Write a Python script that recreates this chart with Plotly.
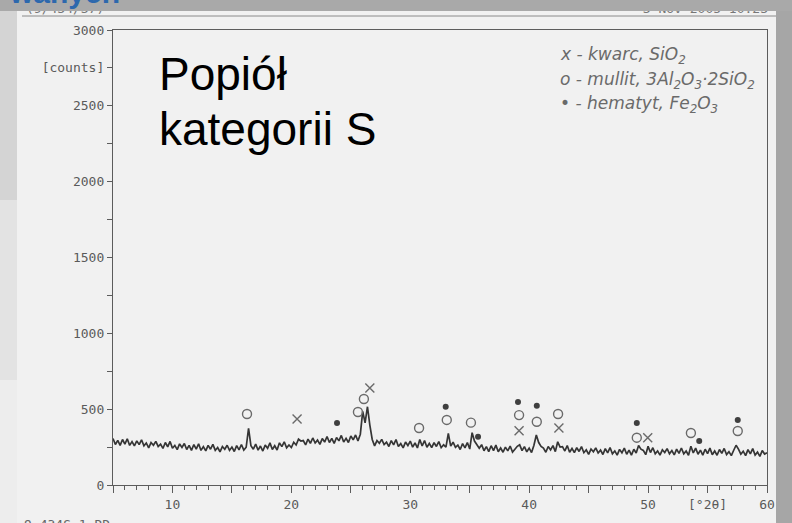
import plotly.graph_objects as go

# Diffraction pattern: 2-theta from 5 to 60 deg, step 0.2 deg
two_theta_start = 5.0
two_theta_step = 0.2
counts = [
    307, 267, 294, 261, 300,   # 5
    269, 305, 261, 286, 258,   # 6
    291, 266, 298, 258, 277,   # 7
    245, 280, 262, 288, 254,   # 8
    270, 241, 280, 252, 287,   # 9
    242, 261, 233, 271, 248,   # 10
    274, 234, 261, 228, 267,   # 11
    236, 272, 228, 253, 225,   # 12
    261, 236, 268, 228, 247,   # 13
    219, 254, 236, 262, 228,   # 14
    250, 221, 260, 232, 267,   # 15
    230, 249, 374, 259, 236,   # 16
    270, 230, 257, 224, 263,   # 17
    242, 278, 234, 259, 231,   # 18
    278, 253, 285, 245, 264,   # 19
    247, 282, 264, 302, 290,   # 20
    293, 264, 303, 275, 310,   # 21
    277, 296, 268, 306, 283,   # 22
    320, 280, 307, 274, 313,   # 23
    291, 327, 283, 308, 280,   # 24
    323, 298, 330, 290, 335,   # 25
    485, 410, 516, 395, 300,   # 26
    258, 293, 275, 301, 267,   # 27
    283, 254, 293, 265, 300,   # 28
    254, 273, 245, 283, 260,   # 29
    290, 250, 277, 244, 300,   # 30
    257, 293, 249, 274, 246,   # 31
    279, 254, 286, 246, 265,   # 32
    250, 341, 256, 282, 248,   # 33
    263, 234, 273, 245, 280,   # 34
    237, 345, 290, 266, 243,   # 35
    266, 226, 253, 220, 259,   # 36
    227, 263, 219, 244, 216,   # 37
    250, 225, 257, 217, 236,   # 38
    255, 265, 227, 253, 219,   # 39
    243, 214, 262, 330, 280,   # 40
    255, 244, 216, 254, 231,   # 41
    260, 220, 285, 250, 253,   # 42
    224, 260, 216, 241, 213,   # 43
    246, 221, 253, 213, 232,   # 44
    202, 237, 219, 245, 211,   # 45
    230, 201, 240, 212, 247,   # 46
    206, 225, 197, 235, 212,   # 47
    243, 203, 230, 197, 236,   # 48
    211, 260, 236, 228, 200,   # 49
    255, 214, 246, 206, 225,   # 50
    197, 232, 214, 240, 206,   # 51
    227, 198, 237, 209, 244,   # 52
    205, 224, 196, 255, 211,   # 53
    243, 203, 230, 197, 236,   # 54
    207, 243, 199, 224, 196,   # 55
    234, 209, 241, 201, 220,   # 56
    194, 229, 262, 237, 203,   # 57
    223, 194, 233, 205, 240,   # 58
    198, 217, 189, 227, 204,   # 59
    212,                       # 60
]
two_theta = [round(two_theta_start + i * two_theta_step, 2) for i in range(len(counts))]

# Phase identification marks (2-theta, label height in counts)
quartz_x = [20.48, 26.6, 39.15, 42.5, 49.97]
quartz_y = [435, 640, 358, 376, 312]
mullite_x = [16.27, 25.6, 26.1, 30.74, 33.07, 35.1, 39.15, 40.64, 42.43, 49.05, 53.6, 57.54]
mullite_y = [468, 481, 567, 376, 429, 411, 461, 417, 468, 312, 343, 356]
hematite_x = [23.84, 32.98, 35.7, 39.06, 40.64, 49.05, 54.3, 57.54]
hematite_y = [409, 516, 318, 547, 523, 409, 290, 429]

x_tick_vals = [5, 10, 15, 20, 25, 30, 35, 40, 45, 50, 55, 60]
x_tick_text = ["", "10", "", "20", "", "30", "", "40", "", "50", "[\u00b02\u03b8]", "60"]
y_tick_vals = [0, 250, 500, 750, 1000, 1250, 1500, 1750, 2000, 2250, 2500, 2750, 3000]
y_tick_text = ["0", "", "500", "", "1000", "", "1500", "", "2000", "", "2500", "[counts]", "3000"]

# plot-area placement in page pixels
W, H = 792, 523
L, R, T, B = 113, 767, 30, 485


def fx(px):
    return (px - L) / (R - L)


def fy(py):
    return (B - py) / (B - T)


INK = "#353535"
AXIS = "#5c5c5c"
PEN = "#6a6a6a"
MONO = "DejaVu Sans Mono"

fig = go.Figure()

fig.add_trace(go.Scatter(
    x=two_theta, y=counts, mode="lines",
    line=dict(color=INK, width=1.7), hoverinfo="skip", showlegend=False,
))
fig.add_trace(go.Scatter(
    x=mullite_x, y=mullite_y, mode="markers",
    marker=dict(symbol="circle-open", size=9, color=PEN, line=dict(width=1.4)),
    showlegend=False,
))
fig.add_trace(go.Scatter(
    x=quartz_x, y=quartz_y, mode="markers",
    marker=dict(symbol="x-thin-open", size=9, color=PEN, line=dict(width=1.4, color=PEN)),
    showlegend=False,
))
fig.add_trace(go.Scatter(
    x=hematite_x, y=hematite_y, mode="markers",
    marker=dict(symbol="circle", size=6, color="#3f3f3f"),
    showlegend=False,
))

shapes = []
# page background bands
shapes.append(dict(type="rect", xref="paper", yref="paper", layer="below",
                   x0=fx(0), x1=fx(17), y0=fy(11), y1=fy(200),
                   fillcolor="#d4d4d4", line=dict(width=0)))
shapes.append(dict(type="rect", xref="paper", yref="paper", layer="below",
                   x0=fx(0), x1=fx(17), y0=fy(200), y1=fy(380),
                   fillcolor="#e3e3e3", line=dict(width=0)))
shapes.append(dict(type="rect", xref="paper", yref="paper", layer="below",
                   x0=fx(0), x1=fx(17), y0=fy(380), y1=fy(523),
                   fillcolor="#ededed", line=dict(width=0)))
# scanned sheet
shapes.append(dict(type="rect", xref="paper", yref="paper", layer="below",
                   x0=fx(17), x1=fx(776), y0=fy(11), y1=fy(523),
                   fillcolor="#f1f1f1", line=dict(width=0)))
# header text of the sheet, partly hidden under the top band
shapes.append(dict(type="rect", xref="paper", yref="paper", layer="above",
                   x0=fx(22), x1=fx(300), y0=fy(16), y1=fy(0),
                   fillcolor="rgba(0,0,0,0)", line=dict(width=0),
                   label=dict(text="(9/434/37)", textposition="bottom left",
                              padding=1, font=dict(family=MONO, size=13, color="#777"))))
shapes.append(dict(type="rect", xref="paper", yref="paper", layer="above",
                   x0=fx(500), x1=fx(772), y0=fy(16), y1=fy(0),
                   fillcolor="rgba(0,0,0,0)", line=dict(width=0),
                   label=dict(text="3 Nov 2005 10:23", textposition="bottom right",
                              padding=1, font=dict(family=MONO, size=13, color="#777"))))
shapes.append(dict(type="line", xref="paper", yref="paper", layer="above",
                   x0=fx(22), x1=fx(776), y0=fy(16), y1=fy(16),
                   line=dict(color="#8a8a8a", width=1)))
# top band drawn last so it covers the header text tops
shapes.append(dict(type="rect", xref="paper", yref="paper", layer="above",
                   x0=fx(0), x1=fx(792), y0=fy(11), y1=fy(0),
                   fillcolor="#a9a9a9", line=dict(width=0)))

LEGEND_FONT = dict(family="DejaVu Sans", size=17, color=PEN, style="italic")

annotations = [
    dict(text="wanych", xref="paper", yref="paper", x=fx(122), y=fy(11),
         xanchor="right", yanchor="bottom", showarrow=False,
         font=dict(family="Liberation Sans", size=30, color="#2d68ad", weight="bold")),
    dict(text="9.434S.1.RD", xref="paper", yref="paper", x=fx(22), y=fy(515),
         xanchor="left", yanchor="top", showarrow=False,
         font=dict(family=MONO, size=13, color="#666")),
    dict(text="Popiół", xref="paper", yref="paper", x=fx(157), y=fy(102),
         xanchor="left", yanchor="bottom", showarrow=False,
         font=dict(family="Liberation Sans", size=46, color="#000")),
    dict(text="kategorii S", xref="paper", yref="paper", x=fx(157), y=fy(157),
         xanchor="left", yanchor="bottom", showarrow=False,
         font=dict(family="Liberation Sans", size=46, color="#000")),
    dict(text="x - kwarc, SiO<sub>2</sub>", xref="paper", yref="paper",
         x=fx(558), y=fy(55), xanchor="left", yanchor="middle", showarrow=False,
         font=LEGEND_FONT),
    dict(text="o - mullit, 3Al<sub>2</sub>O<sub>3</sub>·2SiO<sub>2</sub>", xref="paper", yref="paper",
         x=fx(558), y=fy(80), xanchor="left", yanchor="middle", showarrow=False,
         font=LEGEND_FONT),
    dict(text="• - hematyt, Fe<sub>2</sub>O<sub>3</sub>", xref="paper", yref="paper",
         x=fx(558), y=fy(105), xanchor="left", yanchor="middle", showarrow=False,
         font=LEGEND_FONT),
]

fig.update_layout(
    width=W, height=H,
    margin=dict(l=L, r=W - R, t=T, b=H - B, pad=0),
    paper_bgcolor="#a6a6a6",
    plot_bgcolor="rgba(0,0,0,0)",
    showlegend=False,
    shapes=shapes,
    annotations=annotations,
    xaxis=dict(
        range=[5, 60], showgrid=False, zeroline=False,
        showline=True, mirror=True, linecolor=AXIS, linewidth=1.3,
        ticks="outside", tickvals=x_tick_vals, ticktext=x_tick_text,
        ticklen=7, tickwidth=1.2, tickcolor=AXIS,
        minor=dict(dtick=1, tick0=5, ticks="outside", ticklen=4, tickwidth=1, tickcolor=AXIS, showgrid=False),
        tickfont=dict(family=MONO, size=13, color="#5a5a5a"),
    ),
    yaxis=dict(
        range=[0, 3000], showgrid=False, zeroline=False,
        showline=True, mirror=True, linecolor=AXIS, linewidth=1.3,
        ticks="outside", tickvals=y_tick_vals, ticktext=y_tick_text,
        ticklen=5, tickwidth=1.2, tickcolor=AXIS,
        tickfont=dict(family=MONO, size=13, color="#5a5a5a"),
    ),
)

fig.write_html("out.html")
